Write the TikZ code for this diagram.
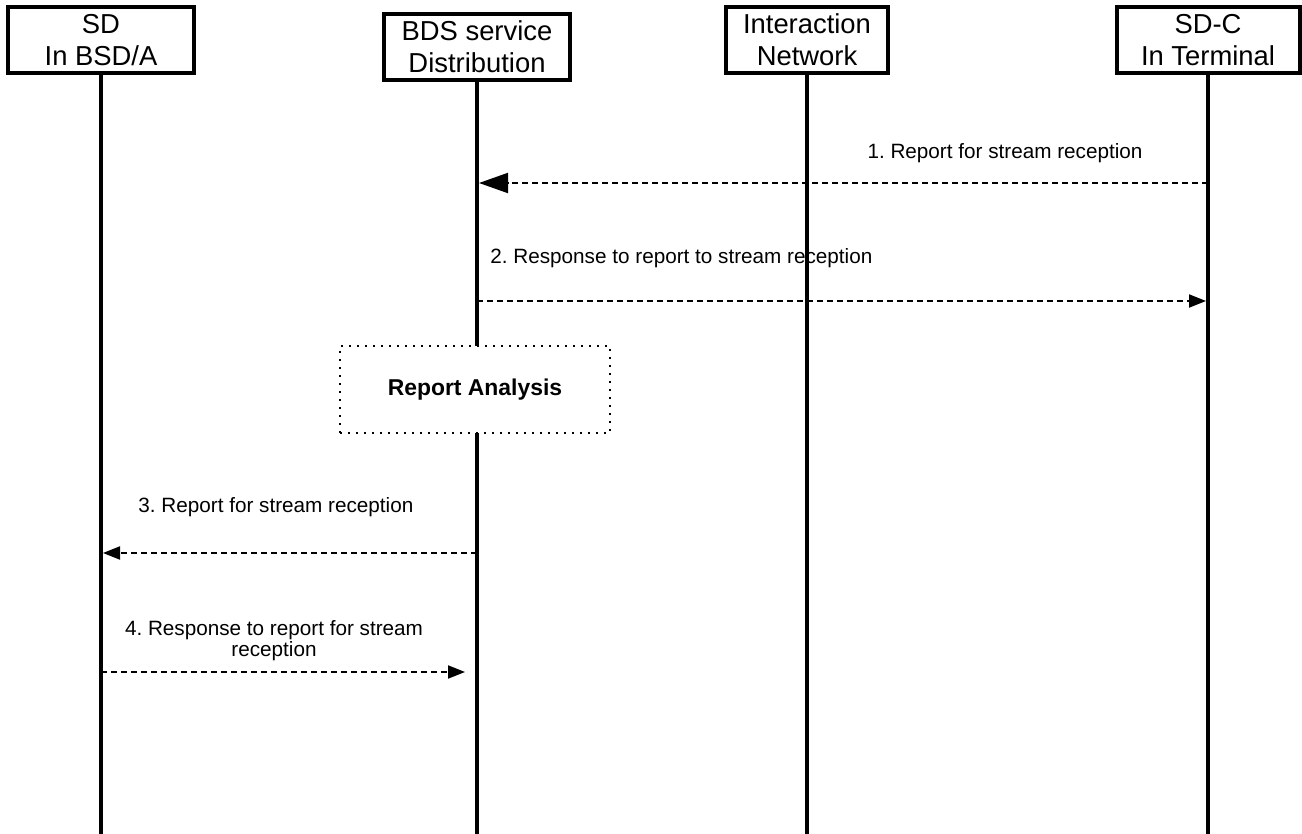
\documentclass[tikz,border=0pt]{standalone}
\usepackage{fontspec}
\setmainfont{Liberation Sans}
\usetikzlibrary{arrows.meta,positioning}
\frenchspacing

\begin{document}
\begin{tikzpicture}[x=0.5pt,y=-0.5pt,
  actor/.style={draw,line width=2pt,inner sep=0pt,align=center,minimum height=33pt,font=\fontsize{13.7}{16}\selectfont},
  life/.style={line width=2pt},
  msg/.style={-{Triangle[length=8.5pt,width=6.5pt]},line width=1pt,dash pattern=on 3pt off 2pt,shorten >=1pt},
  lbl/.style={font=\fontsize{10.35}{8}\selectfont,align=center,inner sep=0pt}]
\useasboundingbox (0,0) rectangle (1302,834);
% actors and lifelines
\node[actor,minimum width=93pt] (sd) at (101,40) {SD\\In BSD/A};
\node[actor,minimum width=93pt] (bds) at (477,47) {BDS service\\Distribution};
\node[actor,minimum width=81pt] (inet) at (807,40) {Interaction\\Network};
\node[actor,minimum width=91.5pt] (sdc) at (1208,40) {SD-C\\In Terminal};
\foreach \n in {sd,bds,inet,sdc}{\coordinate (\n-end) at (\n |- 0,834);\draw[life] (\n.south) -- (\n-end);}
% message ends
\coordinate (m1a) at (sdc |- 0,183);\coordinate (m1b) at (bds |- 0,183);
\coordinate (m2a) at (bds |- 0,301);\coordinate (m2b) at (sdc |- 0,301);
\coordinate (m3a) at (bds |- 0,553);\coordinate (m3b) at (sd |- 0,553);
\coordinate (m4a) at (sd |- 0,672);\coordinate (m4b) at (465,672);
% messages
\draw[msg,-{Triangle[length=14.5pt,width=10pt]}] (m1a) -- (m1b);
\node[lbl] (l1) at (1005,153) {1. Report for stream reception};
\draw[msg] (m2a) -- (m2b);
\node[lbl,anchor=west] (l2) at (490,258) {2. Response to report to stream reception};
\node[draw,fill=white,line width=1pt,dash pattern=on 1pt off 3pt,minimum width=135pt,minimum height=43.5pt,font=\fontsize{11.45}{13}\selectfont\bfseries] (ana) at (475,389.5) {Report Analysis};
\draw[msg] (m3a) -- (m3b);
\node[lbl,anchor=west] (l3) at (138,507) {3. Report for stream reception};
\draw[msg,shorten >=0pt] (m4a) -- (m4b);
\node[lbl] (l4) at (274,641) {4. Response to report for stream\\reception};
\end{tikzpicture}
\end{document}
